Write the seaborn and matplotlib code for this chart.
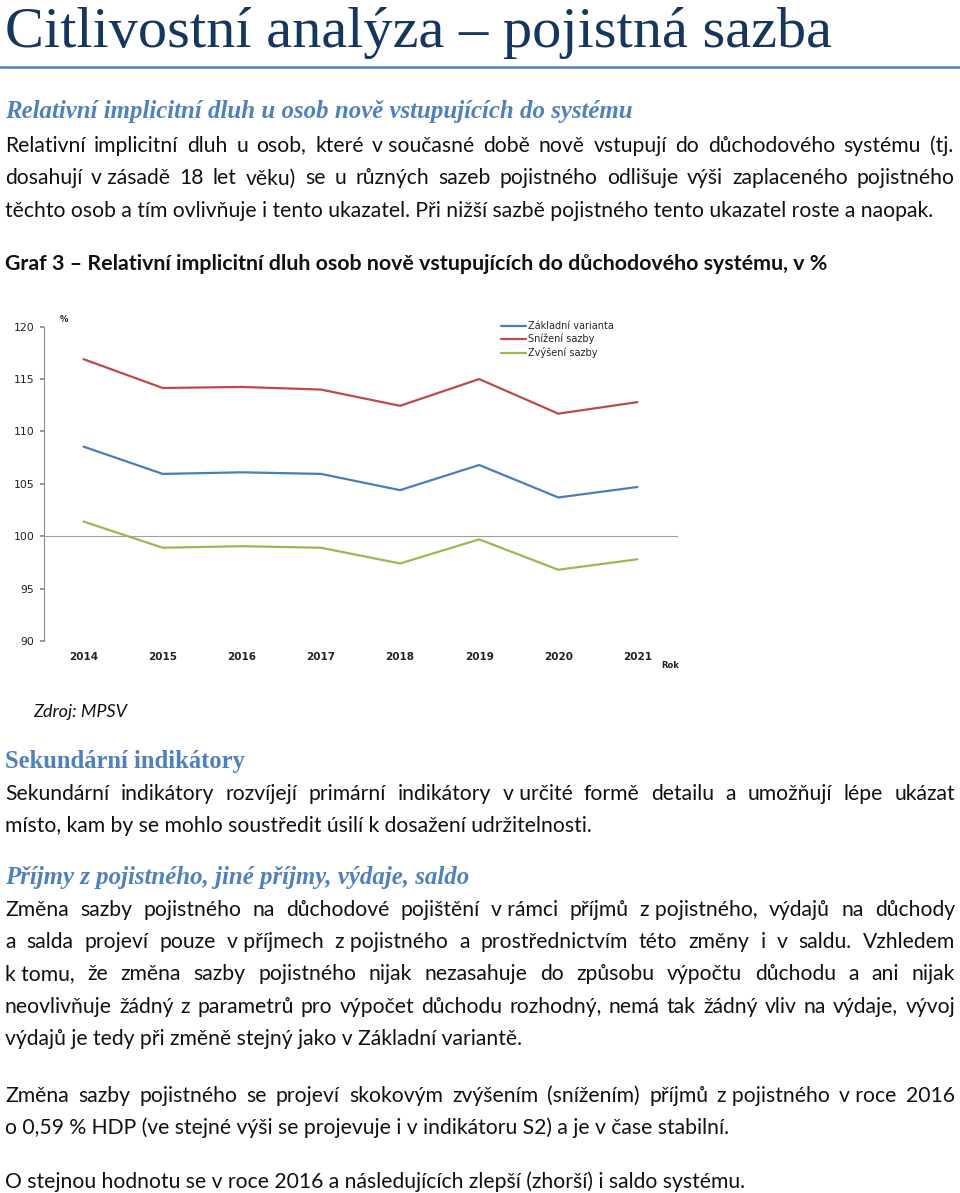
import matplotlib
matplotlib.use("Agg")
import matplotlib.pyplot as plt
import seaborn as sns
import pandas as pd

# chart data
years = [2014, 2015, 2016, 2017, 2018, 2019, 2020, 2021]
zakladni = [108.55, 105.95, 106.1, 105.95, 104.4, 106.8, 103.7, 104.7]
snizeni = [116.9, 114.15, 114.25, 114.0, 112.45, 115.0, 111.7, 112.8]
zvyseni = [101.4, 98.9, 99.05, 98.9, 97.4, 99.7, 96.8, 97.8]
series_names = ["Základní varianta", "Snížení sazby", "Zvýšení sazby"]
series_colors = ["#4A7EBB", "#BE4B48", "#98B954"]
y_ticks = [90, 95, 100, 105, 110, 115, 120]

# page texts
title = "Citlivostní analýza – pojistná sazba"
sub1 = "Relativní implicitní dluh u osob nově vstupujících do systému"
par1 = ["Relativní implicitní dluh u osob, které v\u00a0současné době nově vstupují do důchodového systému (tj.",
        "dosahují v\u00a0zásadě 18 let věku) se u různých sazeb pojistného odlišuje výši zaplaceného pojistného",
        "těchto osob a tím ovlivňuje i tento ukazatel. Při nižší sazbě pojistného tento ukazatel roste a naopak."]
caption = "Graf 3 – Relativní implicitní dluh osob nově vstupujících do důchodového systému, v %"
source = "Zdroj: MPSV"
sub2 = "Sekundární indikátory"
par2 = ["Sekundární indikátory rozvíjejí primární indikátory v\u00a0určité formě detailu a umožňují lépe ukázat",
        "místo, kam by se mohlo soustředit úsilí k dosažení udržitelnosti."]
sub3 = "Příjmy z pojistného, jiné příjmy, výdaje, saldo"
par3 = ["Změna sazby pojistného na důchodové pojištění v\u00a0rámci příjmů z\u00a0pojistného, výdajů na důchody",
        "a salda projeví pouze v\u00a0příjmech z\u00a0pojistného a prostřednictvím této změny i v saldu. Vzhledem",
        "k\u00a0tomu, že změna sazby pojistného nijak nezasahuje do způsobu výpočtu důchodu a ani nijak",
        "neovlivňuje žádný z parametrů pro výpočet důchodu rozhodný, nemá tak žádný vliv na výdaje, vývoj",
        "výdajů je tedy při změně stejný jako v Základní variantě."]
par4 = ["Změna sazby pojistného se projeví skokovým zvýšením (snížením) příjmů z\u00a0pojistného v\u00a0roce 2016",
        "o 0,59 % HDP (ve stejné výši se projevuje i v indikátoru S2) a je v čase stabilní."]
par5 = ["O stejnou hodnotu se v roce 2016 a následujících zlepší (zhorší) i saldo systému."]

W, H = 960, 1193
sns.set_theme(style="white")
plt.rcParams["font.family"] = ["Lato", "DejaVu Sans"]

fig = plt.figure(figsize=(W / 100, H / 100), dpi=100)
r = fig.canvas.get_renderer()

HEAD = "#4F81BD"
BODY = "#111111"


def put(text, x, y, x_end=None, mode="left", **kw):
    t = fig.text(x / W, 1 - y / H, text, va="baseline", ha="left", **kw)
    if mode == "left":
        return t
    w = t.get_window_extent(r).width
    if mode == "fit":
        t.set_fontsize(t.get_fontsize() * (x_end - x) / w)
        return t
    # justified line: spread words between x and x_end
    t.remove()
    words = text.split(" ")
    arts = [fig.text(0, 0, wd, va="baseline", ha="left", **kw) for wd in words]
    widths = [a.get_window_extent(r).width for a in arts]
    gap = ((x_end - x) - sum(widths)) / (len(words) - 1)
    cx = x
    for a, wd in zip(arts, widths):
        a.set_position((cx / W, 1 - y / H))
        cx += wd + gap


def calib(text, target, **kw):
    p = fig.text(0, 0, text, fontsize=14, **kw)
    s = 14 * target / p.get_window_extent(r).width
    p.remove()
    return s


# body size calibrated on unjustified lines
bkw = dict(fontsize=calib(par5[0] + par1[2], 743 + 930), color=BODY)

# header
put(title, 5, 47, 830, mode="fit", fontsize=36, color="#17365D", family="Liberation Serif")
fig.add_artist(plt.Line2D([0, 1], [1 - 67 / H] * 2, color=HEAD, lw=1.8))
put(sub1, 5, 118, 632, mode="fit", fontsize=16, color=HEAD, family="Liberation Serif",
    fontweight="bold", fontstyle="italic")
put(par1[0], 5, 151.5, 953, mode="justify", **bkw)
put(par1[1], 5, 184.5, 955, mode="justify", **bkw)
put(par1[2], 5, 217, **bkw)
put(caption, 5, 270, 830, mode="fit", fontsize=14, color=BODY, fontweight="bold")

# chart
df = pd.DataFrame({"Rok": years * 3,
                   "hodnota": zakladni + snizeni + zvyseni,
                   "varianta": [n for n in series_names for _ in years]})
ax = fig.add_axes([44 / W, 1 - 641 / H, 633 / W, 314.3 / H])
sns.lineplot(data=df, x="Rok", y="hodnota", hue="varianta", palette=series_colors,
             linewidth=1.6, ax=ax)
ax.set_xlim(2013.5, 2021.5)
ax.set_ylim(90, 120)
ax.set_yticks(y_ticks)
ax.set_xlabel("")
ax.set_ylabel("")
for s in ["top", "right"]:
    ax.spines[s].set_visible(False)
ax.spines["left"].set_color("#8C8C8C")
ax.spines["left"].set_linewidth(0.8)
ax.spines["bottom"].set_position(("data", 100))
ax.spines["bottom"].set_color("#A0A0A0")
ax.spines["bottom"].set_linewidth(0.8)
ax.set_xticks([y + 0.5 for y in [2013] + years])
ax.tick_params(axis="x", length=3, color="#8C8C8C", labelbottom=False, direction="out")
ax.tick_params(axis="y", length=3, color="#8C8C8C", labelsize=7.8, labelcolor="#222222",
               left=True, pad=4)
for lab in ax.get_yticklabels():
    lab.set_family("DejaVu Sans")
sec = ax.secondary_xaxis(0)
sec.set_xticks(years)
sec.set_xticklabels([str(y) for y in years], family="DejaVu Sans", fontsize=7.5,
                    fontweight="bold", color="#222222")
sec.tick_params(length=0, pad=8)
sec.spines["bottom"].set_visible(False)
ax.text(0.025, 1.015, "%", transform=ax.transAxes, fontsize=6, family="DejaVu Sans",
        fontweight="bold", color="#222222")
ax.text(0.975, -0.085, "Rok", transform=ax.transAxes, fontsize=6, family="DejaVu Sans",
        fontweight="bold", color="#222222")
ax.legend(loc="upper left", bbox_to_anchor=(501 / W, 1 - 321 / H),
          bbox_transform=fig.transFigure, frameon=False, handlelength=2.6,
          handletextpad=0.15, labelspacing=0.28, borderpad=0, borderaxespad=0,
          prop={"family": "DejaVu Sans", "size": 7})

# bottom text
put(source, 33, 717, 127, mode="fit", fontsize=13, color=BODY, fontstyle="italic")
put(sub2, 5, 768, 245, mode="fit", fontsize=15, color=HEAD, family="Liberation Serif",
    fontweight="bold")
put(par2[0], 5, 800, 955, mode="justify", **bkw)
put(par2[1], 5, 832, **bkw)
put(sub3, 5, 884, 471, mode="fit", fontsize=15, color=HEAD, family="Liberation Serif",
    fontweight="bold", fontstyle="italic")
for i, line in enumerate(par3):
    yb = 915.5 + i * 32.4
    if i < len(par3) - 1:
        put(line, 5, yb, 955, mode="justify", **bkw)
    else:
        put(line, 5, yb, **bkw)
put(par4[0], 5, 1101.5, 955, mode="justify", **bkw)
put(par4[1], 5, 1134, **bkw)
put(par5[0], 5, 1188, **bkw)

fig.savefig("out.png", dpi=100)
